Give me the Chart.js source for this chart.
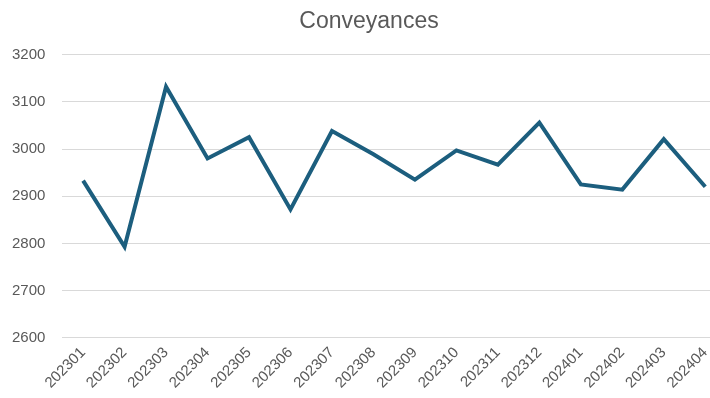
<!DOCTYPE html>
<html>
<head>
<meta charset="utf-8">
<script src="https://cdn.jsdelivr.net/npm/chart.js@4"></script>
<style>
  html, body { margin: 0; padding: 0; background: #fff; overflow: hidden; }
  #wrap { width: 726px; height: 398px; }
</style>
</head>
<body>
<div id="wrap"><canvas id="chart"></canvas></div>
<script>
const months = ["202301", "202302", "202303", "202304", "202305", "202306", "202307", "202308",
  "202309", "202310", "202311", "202312", "202401", "202402", "202403", "202404"];
const conveyances = [2933, 2793, 3132, 2980, 3025, 2872, 3038, 2989,
  2935, 2997, 2967, 3056, 2925, 2914, 3021, 2920];
const yMin = 2600;
const yMax = 3200;
const yStep = 100;

const grey = "#595959";
const yTickPad = 17;

new Chart(document.querySelector("#chart").getContext("2d"), {
  type: "line",
  data: {
    labels: months,
    datasets: [{
      label: "Conveyances",
      data: conveyances,
      borderColor: "#1c5e7e",
      backgroundColor: "#1c5e7e",
      borderWidth: 4,
      pointRadius: 0,
      tension: 0,
    }],
  },
  options: {
    responsive: true,
    maintainAspectRatio: false,
    animation: false,
    layout: { padding: { left: 12, right: 0, top: 4, bottom: 0 } },
    plugins: {
      legend: { display: false },
      tooltip: { enabled: false },
      title: {
        display: true,
        text: "Conveyances",
        color: grey,
        font: { family: "Liberation Sans", size: 23, weight: "normal" },
        padding: { top: 4, bottom: 19 },
      },
    },
    scales: {
      x: {
        offset: true,
        grid: { display: false, drawTicks: false },
        border: { display: false },
        ticks: {
          color: grey,
          font: { family: "Liberation Sans", size: 15 },
          maxRotation: 45,
          minRotation: 45,
          padding: 6,
          autoSkip: false,
        },
      },
      y: {
        min: yMin,
        max: yMax,
        grid: { color: "#d9d9d9", lineWidth: 1, drawTicks: false },
        border: { display: false },
        // chart.js reserves the tick padding twice, take one back
        afterFit: (s) => { s.width -= yTickPad; },
        ticks: {
          stepSize: yStep,
          color: grey,
          font: { family: "Liberation Sans", size: 15 },
          padding: yTickPad,
          callback: (v) => String(v),
        },
      },
    },
  },
});
</script>
</body>
</html>
